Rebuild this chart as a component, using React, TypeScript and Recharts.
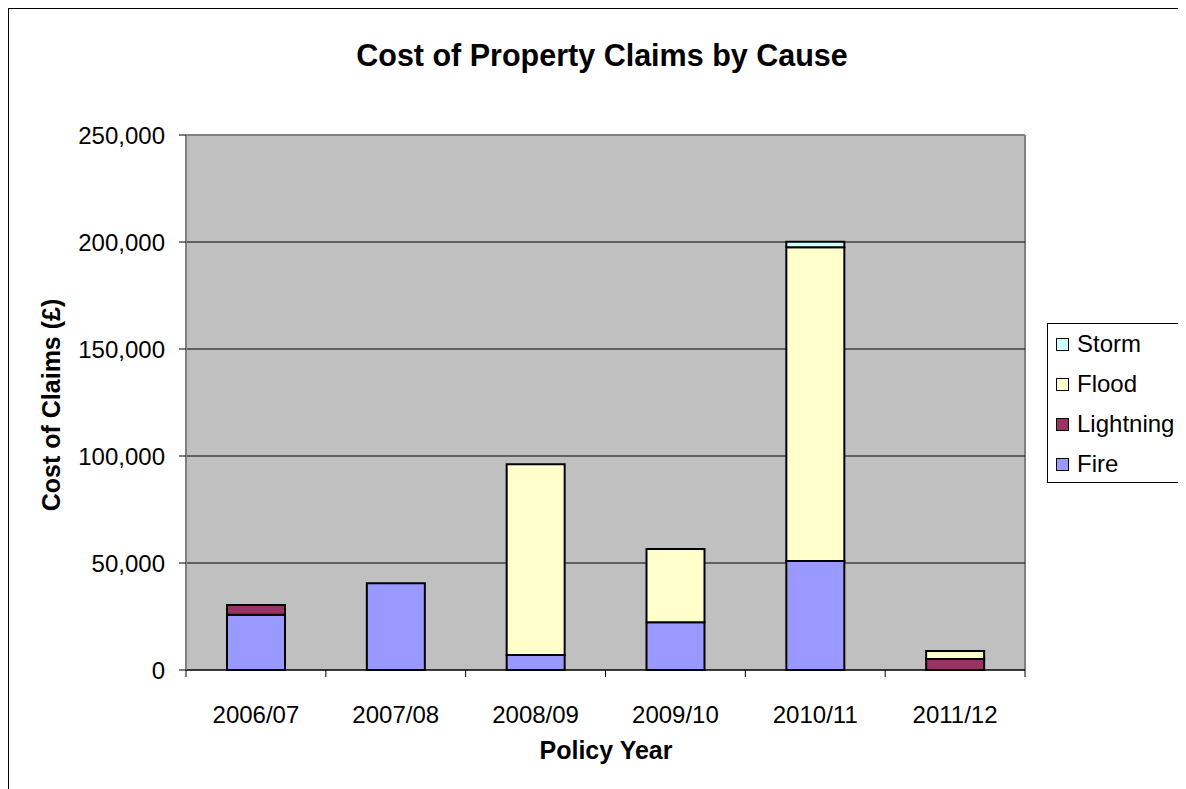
import React from "react";
import { BarChart, Bar, XAxis, YAxis, CartesianGrid } from "recharts";

const years = ["2006/07", "2007/08", "2008/09", "2009/10", "2010/11", "2011/12"];
const fire = [25800, 40500, 7000, 22300, 50900, 0];
const lightning = [4600, 0, 0, 0, 0, 5100];
const flood = [0, 0, 89100, 34200, 146600, 3800];
const storm = [0, 0, 0, 0, 2600, 0];
const yTicks = [0, 50000, 100000, 150000, 200000, 250000];

const series = [
  { key: "fire", name: "Fire", color: "#9999FF", values: fire },
  { key: "lightning", name: "Lightning", color: "#993366", values: lightning },
  { key: "flood", name: "Flood", color: "#FFFFCC", values: flood },
  { key: "storm", name: "Storm", color: "#CCFFFF", values: storm },
];

const data = years.map((year, i) => {
  const row: Record<string, string | number> = { year };
  series.forEach((s) => (row[s.key] = s.values[i]));
  return row;
});

const FONT = '"Liberation Sans", Arial, sans-serif';
const CHART_W = 1177;
const CHART_H = 780;
const PLOT_W = 839;

function XTick(props: any) {
  const { x, y, payload, index } = props;
  const half = PLOT_W / years.length / 2;
  const last = index === years.length - 1;
  return (
    <g>
      <line x1={x - half} y1={y} x2={x - half} y2={y + 7} stroke="#000" strokeWidth={1} />
      {last && <line x1={x + half} y1={y} x2={x + half} y2={y + 7} stroke="#000" strokeWidth={1} />}
      <text x={x} y={y + 53} textAnchor="middle" fontSize={24} fontFamily={FONT} fill="#000">
        {payload.value}
      </text>
    </g>
  );
}

export default function App() {
  return (
    <div
      style={{
        position: "relative",
        boxSizing: "border-box",
        width: 1178,
        height: 781,
        borderTop: "1px solid #000",
        borderLeft: "1px solid #000",
        fontFamily: FONT,
        background: "#fff",
        overflow: "hidden",
      }}
    >
      <style>{`html, body { overflow: hidden; }`}</style>
      <div
        style={{
          position: "absolute",
          left: 0,
          width: 1186,
          top: 28,
          textAlign: "center",
          fontSize: 30.5,
          fontWeight: "bold",
          lineHeight: "36px",
        }}
      >
        Cost of Property Claims by Cause
      </div>
      <div
        style={{
          position: "absolute",
          left: 42 - 150,
          top: 396 - 15,
          width: 300,
          height: 30,
          lineHeight: "30px",
          textAlign: "center",
          fontSize: 25,
          fontWeight: "bold",
          transform: "rotate(-90deg)",
        }}
      >
        Cost of Claims (£)
      </div>
      <div
        style={{
          position: "absolute",
          left: 597 - 150,
          top: 741 - 15,
          width: 300,
          lineHeight: "30px",
          textAlign: "center",
          fontSize: 25,
          fontWeight: "bold",
        }}
      >
        Policy Year
      </div>

      <BarChart
        width={CHART_W}
        height={CHART_H}
        data={data}
        margin={{ top: 126, right: 161, left: 77, bottom: 59 }}
      >
        <CartesianGrid
          fill="#C0C0C0"
          horizontal={false}
          verticalCoordinatesGenerator={({ offset }: any) => [offset.left, offset.left + offset.width]}
          stroke="#808080"
          strokeWidth={2}
        />
        <CartesianGrid vertical={false} stroke="#000" strokeWidth={1.2} />
        <CartesianGrid
          vertical={false}
          horizontalCoordinatesGenerator={({ offset }: any) => [offset.top]}
          stroke="#808080"
          strokeWidth={2}
        />
        <XAxis
          dataKey="year"
          interval={0}
          tickSize={0}
          tickMargin={0}
          tickLine={false}
          axisLine={{ stroke: "#000", strokeWidth: 1.2 }}
          tick={<XTick />}
          height={60}
        />
        <YAxis
          domain={[0, 250000]}
          ticks={yTicks}
          interval={0}
          width={100}
          tickSize={7}
          tickMargin={14}
          axisLine={{ stroke: "#808080", strokeWidth: 2 }}
          tickLine={{ stroke: "#000" }}
          tick={{ fontSize: 24, fontFamily: FONT, fill: "#000" }}
          tickFormatter={(v: number) => v.toLocaleString("en-GB")}
        />
        {series.map((s) => (
          <Bar
            key={s.key}
            dataKey={s.key}
            name={s.name}
            stackId="a"
            fill={s.color}
            stroke="#000"
            strokeWidth={2}
            barSize={58}
            isAnimationActive={false}
          />
        ))}
      </BarChart>

      <div
        style={{
          position: "absolute",
          left: 1038,
          top: 314,
          width: 134,
          height: 158,
          border: "1px solid #000",
          background: "#fff",
        }}
      >
        {[...series].reverse().map((s, i) => (
          <div
            key={s.key}
            style={{
              position: "absolute",
              left: 8,
              top: 20 + i * 40 - 15,
              height: 30,
              display: "flex",
              alignItems: "center",
              fontSize: 24,
              whiteSpace: "nowrap",
            }}
          >
            <span
              style={{
                display: "inline-block",
                width: 11,
                height: 11,
                background: s.color,
                border: "1.5px solid #000",
                marginRight: 8,
              }}
            />
            {s.name}
          </div>
        ))}
      </div>
    </div>
  );
}
